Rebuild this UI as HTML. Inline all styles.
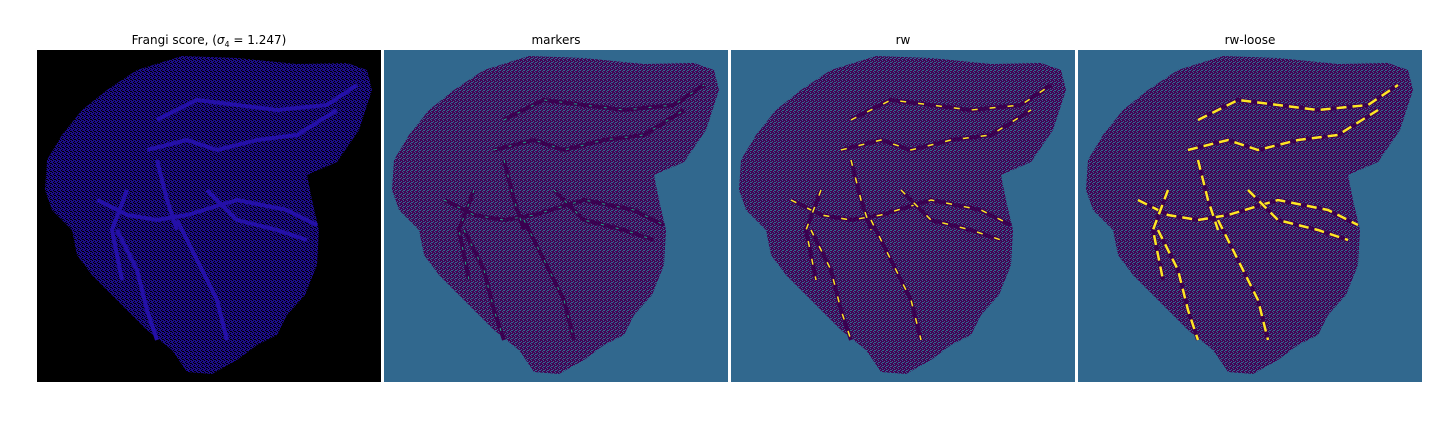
<!DOCTYPE html>
<html><head><meta charset="utf-8"><style>
html,body{margin:0;padding:0;background:#fff;width:1440px;height:432px;overflow:hidden}
svg{display:block}
text{font-family:"DejaVu Sans","Liberation Sans",sans-serif;font-size:12px;fill:#000}
</style></head><body>
<svg id="fig" width="1440" height="432">
<defs>
<pattern id="tex1" width="4" height="4" patternUnits="userSpaceOnUse">
<rect width="4" height="4" fill="#1c0c8c"/><rect x="0" y="0" width="1" height="1" fill="#000"/><rect x="2" y="1" width="1" height="1" fill="#000"/><rect x="1" y="3" width="1" height="1" fill="#000"/><rect x="3" y="2" width="1" height="1" fill="#000"/><rect x="1" y="1" width="1" height="1" fill="#000"/>
</pattern>
<pattern id="tex2" width="4" height="4" patternUnits="userSpaceOnUse">
<rect width="4" height="4" fill="#440154"/><rect x="0" y="0" width="1" height="1" fill="#31688e"/><rect x="2" y="1" width="1" height="1" fill="#31688e"/><rect x="1" y="3" width="1" height="1" fill="#31688e"/><rect x="3" y="2" width="1" height="1" fill="#31688e"/><rect x="3" y="0" width="1" height="1" fill="#31688e"/>
</pattern>
</defs>
</svg>
<script>
const outline=[[145,6],[200,8],[260,14],[310,13],[330,20],[335,40],[322,80],[300,112],[270,125],[275,150],[282,180],[280,215],[268,245],[250,265],[240,285],[220,295],[200,310],[175,324],[150,322],[135,300],[110,280],[85,255],[55,225],[40,205],[35,180],[15,160],[8,140],[10,110],[25,85],[45,60],[70,40],[100,20]];
const vessels=[[[120,70],[160,50],[200,55],[240,60],[290,55],[320,35]],[[110,100],[150,90],[180,100],[220,90],[260,85],[300,60]],[[60,150],[90,165],[120,170],[150,165],[200,150],[250,160],[280,175]],[[80,180],[100,220],[110,260],[120,290]],[[140,170],[160,210],[180,250],[190,290]],[[170,140],[200,170],[240,180],[270,190]],[[120,110],[130,150],[140,180]],[[90,140],[75,180],[85,230]]];
const lefts=[37,384,731,1078];
const bgs=["#000","#31688e","#31688e","#31688e"];
const svg=document.getElementById('fig');const NS="http://www.w3.org/2000/svg";
function mk(t,a){const e=document.createElementNS(NS,t);for(const k in a)e.setAttribute(k,a[k]);return e;}
lefts.forEach((x0,i)=>{
 const g=mk('g',{transform:`translate(${x0},50)`});
 
 
 const bg=mk('rect',{width:344,height:332,fill:bgs[i]});
 
 
 g.appendChild(bg);
 const p=mk('polygon',{points:outline.map(q=>q.join(',')).join(' '),fill:i==0?'url(#tex1)':'url(#tex2)'});
 
 
 g.appendChild(p);
 vessels.forEach(v=>{
  const l=mk('polyline',{points:v.map(q=>q.join(',')).join(' '),fill:'none',stroke:i==0?'#2410a8':'#3a0150','stroke-width':4,'stroke-linejoin':'round'});
  
  
  g.appendChild(l);
  if(i>=2){const y=mk('polyline',{points:v.map(q=>q.join(',')).join(' '),fill:'none',stroke:'#fde725','stroke-width':i==3?2.5:1.5,'stroke-dasharray':i==3?'10 6':'6 12'});
  
  
  g.appendChild(y);}
  if(i==1){const y=mk('polyline',{points:v.map(q=>q.join(',')).join(' '),fill:'none',stroke:'#21a585','stroke-width':1,'stroke-dasharray':'3 12'});
  
  
  g.appendChild(y);}
 });
 svg.appendChild(g);
 const t=mk('text',{x:x0+172,y:44,'text-anchor':'middle'});
 if(i==0){
  t.innerHTML='Frangi score, (<tspan font-style="italic">σ</tspan><tspan font-size="8" dy="3">4</tspan><tspan dy="-3"> = 1.247)</tspan>';
 } else t.textContent=["","markers","rw","rw-loose"][i];
 
 
 svg.appendChild(t);
});
</script>
</body></html>
